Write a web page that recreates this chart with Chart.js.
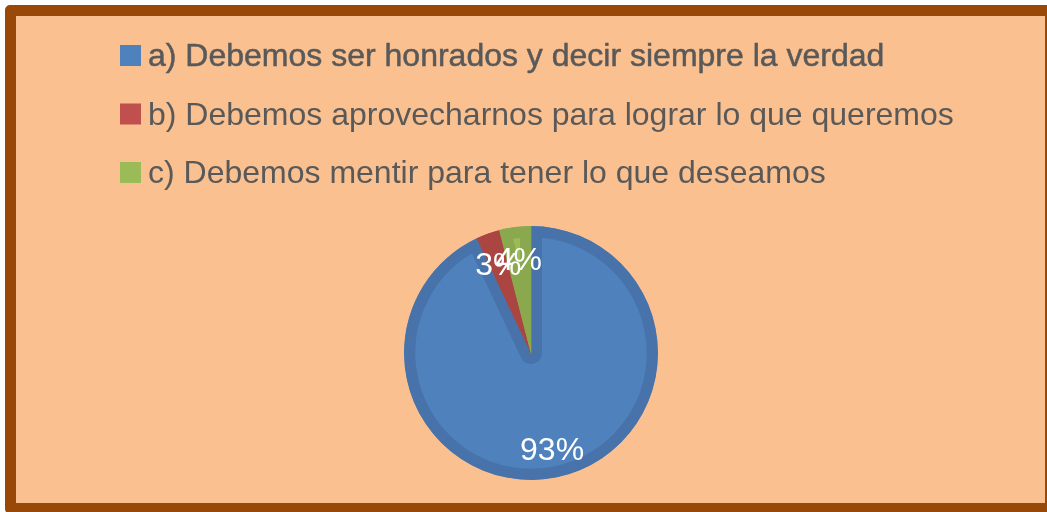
<!DOCTYPE html>
<html>
<head>
<meta charset="utf-8">
<title>Pie chart</title>
<script src="https://cdn.jsdelivr.net/npm/chart.js"></script>
<style>
  html, body { margin: 0; padding: 0; background: #ffffff; overflow: hidden; }
  .frame {
    position: absolute; left: 5px; top: 5px; width: 1051px; height: 509px;
    box-sizing: border-box; border: 11px solid #984807; border-radius: 5px;
    background: #FAC090;
  }
  .wrap { position: absolute; left: 0; top: 0; width: 1047px; height: 512px; }
</style>
</head>
<body>
<div class="frame"></div>
<div class="wrap"><canvas id="pie"></canvas></div>
<script>
// data
const categories = [
  'a) Debemos ser honrados y decir siempre la verdad',
  'b) Debemos aprovecharnos para lograr lo que queremos',
  'c) Debemos mentir para tener lo que deseamos'
];
const percentages = [93, 3, 4];
const sliceColors = ['#4F81BD', '#C0504D', '#9BBB59'];
const edgeColors = ['#4873AA', '#AA4541', '#8AA94F'];

const FONT = '"Liberation Sans", Arial, sans-serif';

// legend drawn as a vertical list in the top left
const sideLegend = {
  id: 'sideLegend',
  afterDraw(chart) {
    const ctx = chart.ctx;
    ctx.save();
    ctx.font = '32px ' + FONT;
    ctx.textBaseline = 'alphabetic';
    ctx.textAlign = 'left';
    categories.forEach((label, i) => {
      const base = 66 + i * 58.5;
      ctx.fillStyle = sliceColors[i];
      ctx.fillRect(120, base - 21, 21, 21);
      ctx.fillStyle = '#595959';
      ctx.fillText(label, 148, base);
      if (i === 0) {
        // first entry looks slightly emboldened
        ctx.strokeStyle = '#595959';
        ctx.lineWidth = 0.5;
        ctx.strokeText(label, 148, base);
      }
    });
    ctx.restore();
  }
};

// percentage labels inside the slices
const sliceLabels = {
  id: 'sliceLabels',
  afterDatasetsDraw(chart) {
    const ctx = chart.ctx;
    const meta = chart.getDatasetMeta(0);
    ctx.save();
    ctx.font = '32px ' + FONT;
    ctx.fillStyle = '#ffffff';
    ctx.textAlign = 'center';
    ctx.textBaseline = 'middle';
    meta.data.forEach((arc, i) => {
      const p = arc.getProps(['x', 'y', 'startAngle', 'endAngle', 'outerRadius'], true);
      const mid = (p.startAngle + p.endAngle) / 2;
      const r = p.outerRadius * 0.76;
      ctx.fillText(percentages[i] + '%', p.x + Math.cos(mid) * r, p.y + Math.sin(mid) * r + 4);
    });
    ctx.restore();
  }
};

new Chart(document.getElementById('pie'), {
  type: 'pie',
  data: {
    labels: categories,
    datasets: [{
      data: percentages,
      backgroundColor: sliceColors,
      borderColor: edgeColors,
      borderWidth: 11,
      borderAlign: 'inner',
      hoverOffset: 0
    }]
  },
  options: {
    responsive: true,
    maintainAspectRatio: false,
    animation: false,
    radius: 127,
    layout: { padding: { left: 404, right: 389, top: 226, bottom: 32 } },
    plugins: {
      legend: { display: false },
      tooltip: { enabled: false }
    }
  },
  plugins: [sideLegend, sliceLabels]
});
</script>
</body>
</html>
